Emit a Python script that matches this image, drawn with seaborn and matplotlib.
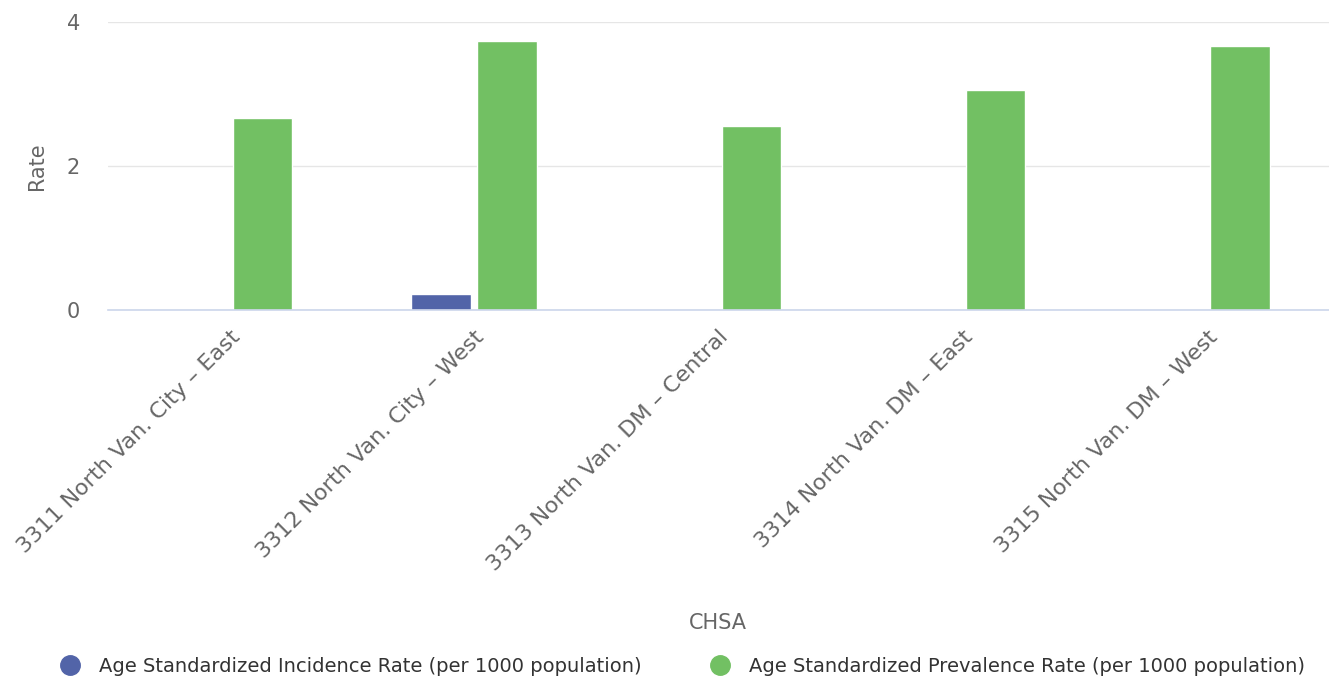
import numpy as np
import pandas as pd
import seaborn as sns
import matplotlib.pyplot as plt
from matplotlib.lines import Line2D

# data
chsa = ["3311 North Van. City – East", "3312 North Van. City – West",
        "3313 North Van. DM – Central", "3314 North Van. DM – East",
        "3315 North Van. DM – West"]
incidence = [np.nan, 0.22, np.nan, np.nan, np.nan]
prevalence = [2.66, 3.74, 2.56, 3.06, 3.67]
series = ["Age Standardized Incidence Rate (per 1000 population)",
          "Age Standardized Prevalence Rate (per 1000 population)"]
colors = ["#5264a8", "#72c063"]

df = pd.DataFrame({
    "CHSA": chsa * 2,
    "Rate": incidence + prevalence,
    "Series": [series[0]] * len(chsa) + [series[1]] * len(chsa),
})

sns.set_theme(style="white")
plt.rcParams['font.family'] = ['DejaVu Sans']
text_col = "#666666"

fig = plt.figure(figsize=(13.29, 6.8), dpi=100)
ax = fig.add_axes([0.081, 0.544, 0.919, 0.424])

sns.barplot(data=df, x="CHSA", y="Rate", hue="Series", palette=colors,
            width=0.54, gap=0.1, ax=ax, legend=False, saturation=1)

ax.set_ylim(0, 4)
ax.set_yticks([0, 2, 4])
ax.yaxis.grid(True, color="#e6e6e6", linewidth=1)
ax.set_axisbelow(True)
for s in ["top", "right", "left"]:
    ax.spines[s].set_visible(False)
ax.spines["bottom"].set_color("#ccd6eb")
ax.spines["bottom"].set_linewidth(1.2)

ax.tick_params(axis="y", length=0, colors=text_col, labelsize=15, pad=20)
ax.tick_params(axis="x", length=0, colors=text_col, labelsize=16, pad=12)
plt.setp(ax.get_xticklabels(), rotation=45, ha="right", rotation_mode="anchor")
ax.set_xlabel("CHSA", color=text_col, fontsize=15)
ax.xaxis.set_label_coords(0.5, -1.05)
ax.set_ylabel("Rate", color=text_col, fontsize=15, labelpad=14)

handles = [Line2D([], [], marker="o", linestyle="", markersize=14, color=c)
           for c in colors]
fig.legend(handles, series, loc="lower center", bbox_to_anchor=(0.51, -0.02),
           ncol=2, frameon=False, fontsize=14, labelcolor="#333333",
           handletextpad=0.5, columnspacing=3)

fig.savefig("out.png", dpi=100)
